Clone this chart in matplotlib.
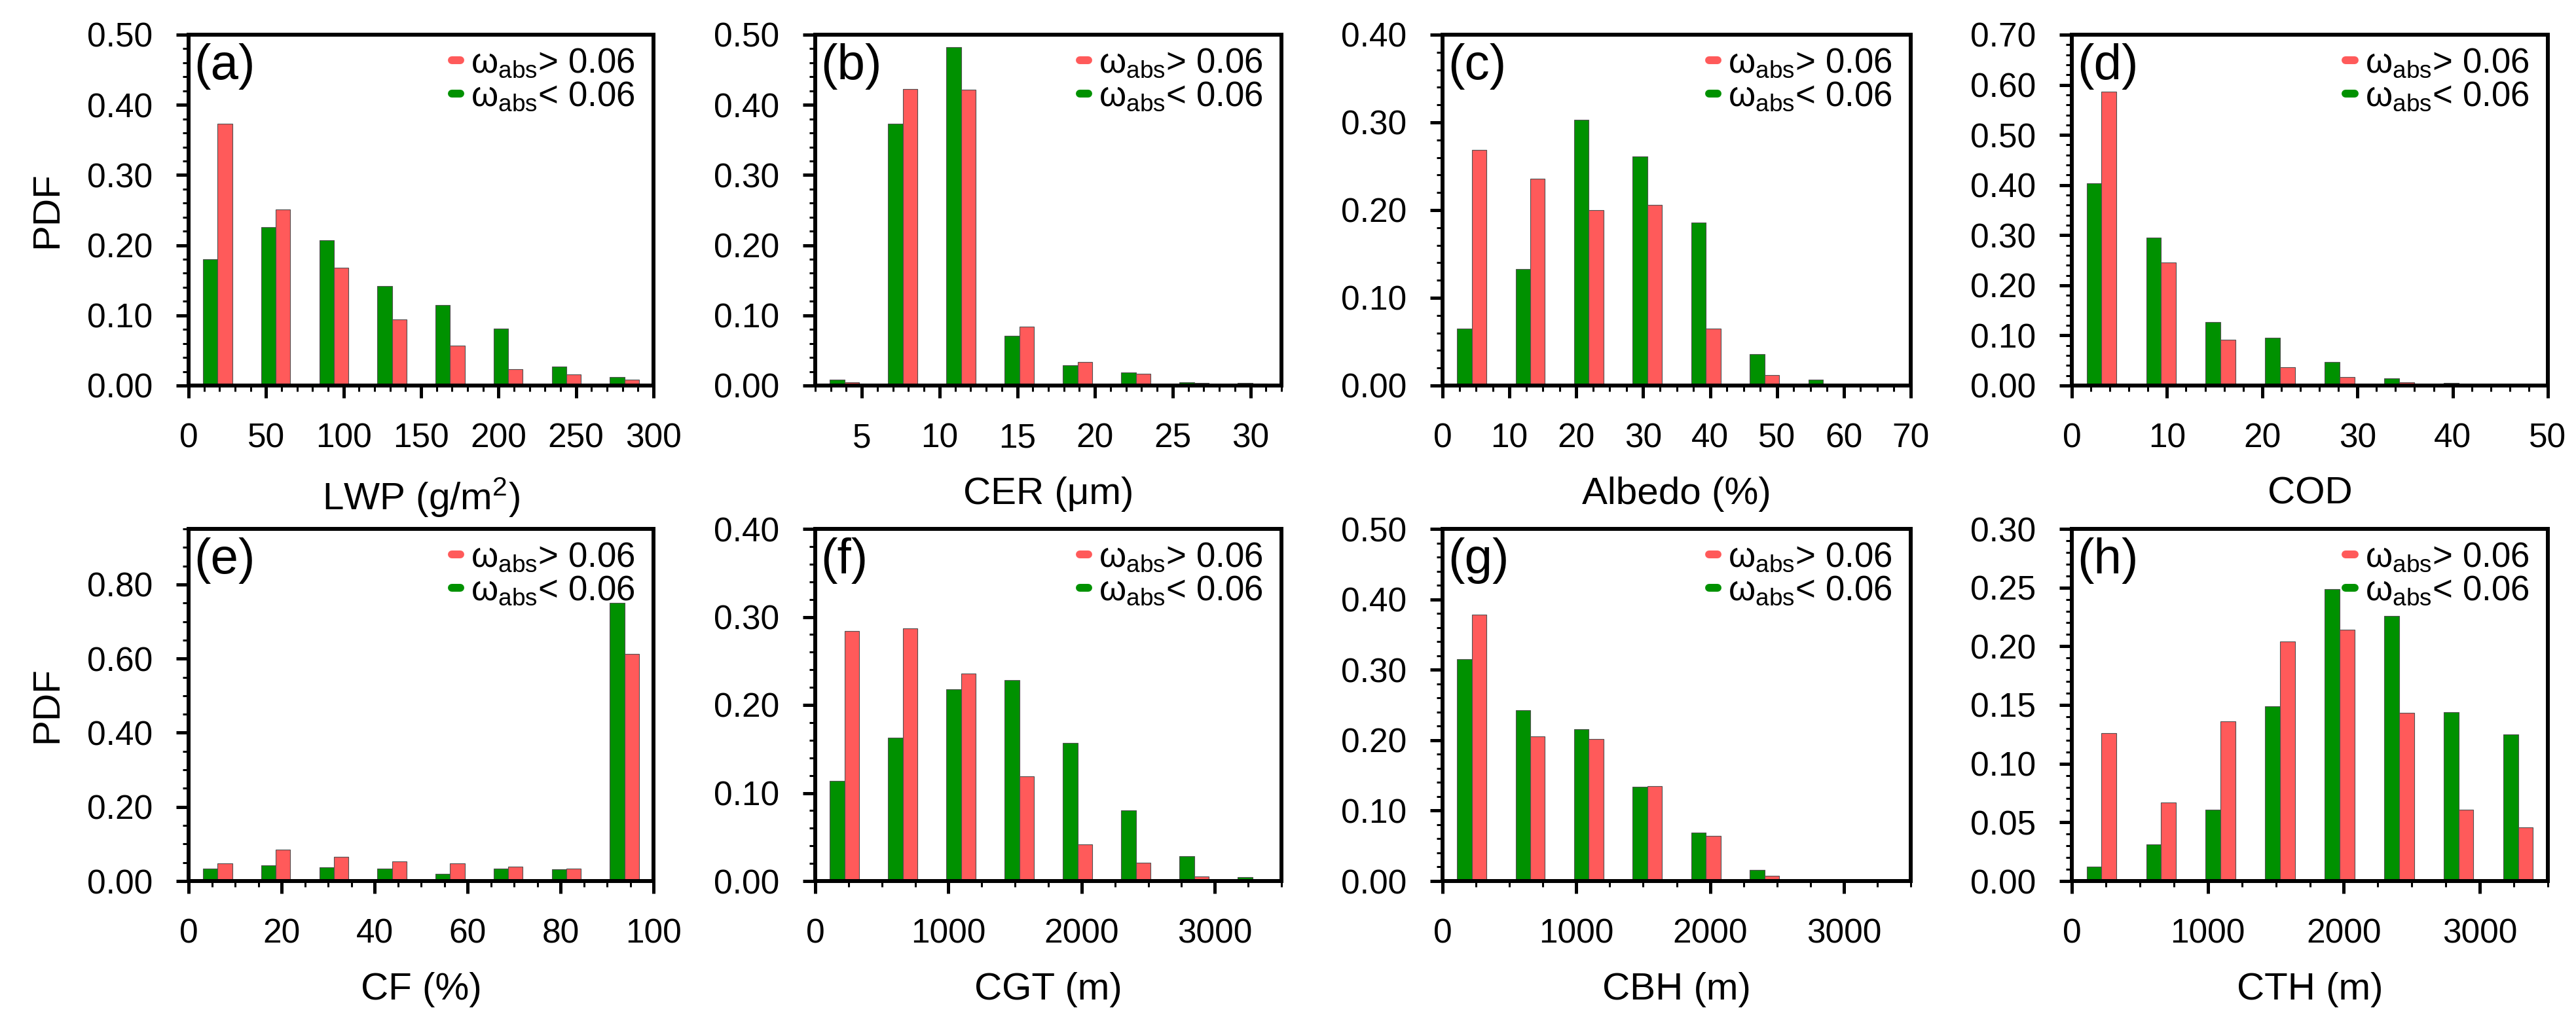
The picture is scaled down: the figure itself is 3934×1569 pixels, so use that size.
import matplotlib
matplotlib.use('Agg')
import matplotlib.pyplot as plt
from matplotlib.ticker import MultipleLocator, FormatStrFormatter
from matplotlib.lines import Line2D

plt.rcParams['font.family'] = ['Liberation Sans', 'DejaVu Sans']
plt.rcParams['mathtext.fontset'] = 'custom'
plt.rcParams['mathtext.rm'] = 'Liberation Sans'
plt.rcParams['mathtext.it'] = 'Liberation Sans:italic'
plt.rcParams['mathtext.bf'] = 'Liberation Sans:bold'

# ---------------- data ----------------
panel_labels = ['(a)', '(b)', '(c)', '(d)', '(e)', '(f)', '(g)', '(h)']
x_titles = [r'LWP (g/m$^{\mathrm{2}}$)', 'CER (μm)', 'Albedo (%)', 'COD',
            'CF (%)', 'CGT (m)', 'CBH (m)', 'CTH (m)']
legend_labels = [r'$\mathrm{\omega_{abs}}$> 0.06', r'$\mathrm{\omega_{abs}}$< 0.06']

lwp_bins = [18.75, 56.25, 93.75, 131.25, 168.75, 206.25, 243.75, 281.25]
lwp_low = [0.180, 0.226, 0.207, 0.142, 0.115, 0.081, 0.027, 0.0125]
lwp_high = [0.373, 0.251, 0.168, 0.094, 0.057, 0.023, 0.016, 0.008]

cer_bins = [3.875, 7.625, 11.375, 15.125, 18.875, 22.625, 26.375, 30.125]
cer_low = [0.008, 0.373, 0.482, 0.071, 0.029, 0.0186, 0.005, 0.004]
cer_high = [0.005, 0.4225, 0.4216, 0.084, 0.034, 0.017, 0.004, 0.003]

alb_bins = [4.375, 13.125, 21.875, 30.625, 39.375, 48.125, 56.875, 65.625]
alb_low = [0.0646, 0.133, 0.303, 0.261, 0.186, 0.036, 0.007, 0.0008]
alb_high = [0.269, 0.236, 0.200, 0.206, 0.065, 0.012, 0.001, 0.001]

cod_bins = [3.125, 9.375, 15.625, 21.875, 28.125, 34.375, 40.625, 46.875]
cod_low = [0.403, 0.295, 0.127, 0.095, 0.047, 0.014, 0.005, 0.001]
cod_high = [0.586, 0.246, 0.092, 0.036, 0.017, 0.0065, 0.002, 0.001]

cf_bins = [6.25, 18.75, 31.25, 43.75, 56.25, 68.75, 81.25, 93.75]
cf_low = [0.034, 0.043, 0.037, 0.034, 0.020, 0.034, 0.031, 0.751]
cf_high = [0.047, 0.085, 0.065, 0.053, 0.0475, 0.0386, 0.034, 0.612]

height_bins = [218.75, 656.25, 1093.75, 1531.25, 1968.75, 2406.25, 2843.75, 3281.25]
cgt_low = [0.114, 0.163, 0.218, 0.228, 0.157, 0.080, 0.028, 0.0045]
cgt_high = [0.284, 0.287, 0.236, 0.119, 0.042, 0.021, 0.005, 0.001]

cbh_low = [0.315, 0.243, 0.2155, 0.1335, 0.069, 0.016, 0.001, 0.0005]
cbh_high = [0.378, 0.205, 0.202, 0.135, 0.064, 0.0075, 0.001, 0.0005]

cth_low = [0.012, 0.031, 0.061, 0.149, 0.2485, 0.226, 0.144, 0.125]
cth_high = [0.126, 0.067, 0.136, 0.204, 0.214, 0.1435, 0.061, 0.046]

bins_list = [lwp_bins, cer_bins, alb_bins, cod_bins, cf_bins, height_bins, height_bins, height_bins]
low_list = [lwp_low, cer_low, alb_low, cod_low, cf_low, cgt_low, cbh_low, cth_low]
high_list = [lwp_high, cer_high, alb_high, cod_high, cf_high, cgt_high, cbh_high, cth_high]

# ---------------- axes settings ----------------
xlims = [(0, 300), (2, 32), (0, 70), (0, 50), (0, 100), (0, 3500), (0, 3500), (0, 3500)]
xmajor = [50, 5, 10, 10, 20, 1000, 1000, 1000]
xminor = [10, 1, 2.5, 2, 5, 250, 250, 250]
ytops = [0.5, 0.5, 0.4, 0.7, 0.95, 0.4, 0.5, 0.3]
ymajor = [0.1, 0.1, 0.1, 0.1, 0.2, 0.1, 0.1, 0.05]
yminor = [0.02, 0.02, 0.02, 0.02, 0.05, 0.02, 0.02, 0.01]

GREEN = '#009100'
RED = '#ff5a5a'

W, H = 3934, 1569
fig = plt.figure(figsize=(W / 100, H / 100), dpi=100)

cols = [(288, 710), (1245, 712), (2203, 715), (3164, 727)]
rows = [(53, 589), (808, 1346)]

for i in range(8):
    r, c = divmod(i, 4)
    left, width = cols[c]
    top, bot = rows[r]
    ax = fig.add_axes([left / W, 1 - bot / H, width / W, (bot - top) / H])

    centers = bins_list[i]
    w = (centers[1] - centers[0]) / 4.0
    gx = [v - w / 2 for v in centers]
    rx = [v + w / 2 for v in centers]
    ax.bar(gx, low_list[i], width=w, color=GREEN, edgecolor='#505050', linewidth=0.8, zorder=2)
    ax.bar(rx, high_list[i], width=w, color=RED, edgecolor='#505050', linewidth=0.8, zorder=2)

    ax.set_xlim(*xlims[i])
    ax.set_ylim(0, ytops[i])
    ax.xaxis.set_major_locator(MultipleLocator(xmajor[i]))
    ax.xaxis.set_minor_locator(MultipleLocator(xminor[i]))
    ax.yaxis.set_major_locator(MultipleLocator(ymajor[i]))
    ax.yaxis.set_minor_locator(MultipleLocator(yminor[i]))
    ax.yaxis.set_major_formatter(FormatStrFormatter('%.2f'))
    ax.xaxis.set_major_formatter(FormatStrFormatter('%d'))

    for s in ax.spines.values():
        s.set_linewidth(4.3)
    ax.tick_params(axis='both', which='major', direction='out', length=13.5, width=3.6,
                   labelsize=37, top=False, right=False)
    ax.tick_params(axis='both', which='minor', direction='out', length=6.5, width=2.2,
                   top=False, right=False)
    ax.tick_params(axis='x', which='major', pad=27)
    ax.tick_params(axis='y', which='major', pad=26)

    ax.set_xlabel(x_titles[i], fontsize=42, labelpad=24)
    if c == 0:
        ax.set_ylabel('PDF', fontsize=42, labelpad=24)

    ax.text(0.012, 0.975, panel_labels[i], transform=ax.transAxes, ha='left', va='top',
            fontsize=55, zorder=5)

    handles = [Line2D([0], [0], color=RED, lw=8.6, solid_capstyle='round'),
               Line2D([0], [0], color=GREEN, lw=8.6, solid_capstyle='round')]
    ax.legend(handles, legend_labels, loc='upper right', bbox_to_anchor=(0.96, 0.965),
              frameon=False, fontsize=38, handlelength=0.25, handletextpad=0.3,
              labelspacing=0.02, borderpad=0, borderaxespad=0)

fig.savefig('out.png', dpi=100)
